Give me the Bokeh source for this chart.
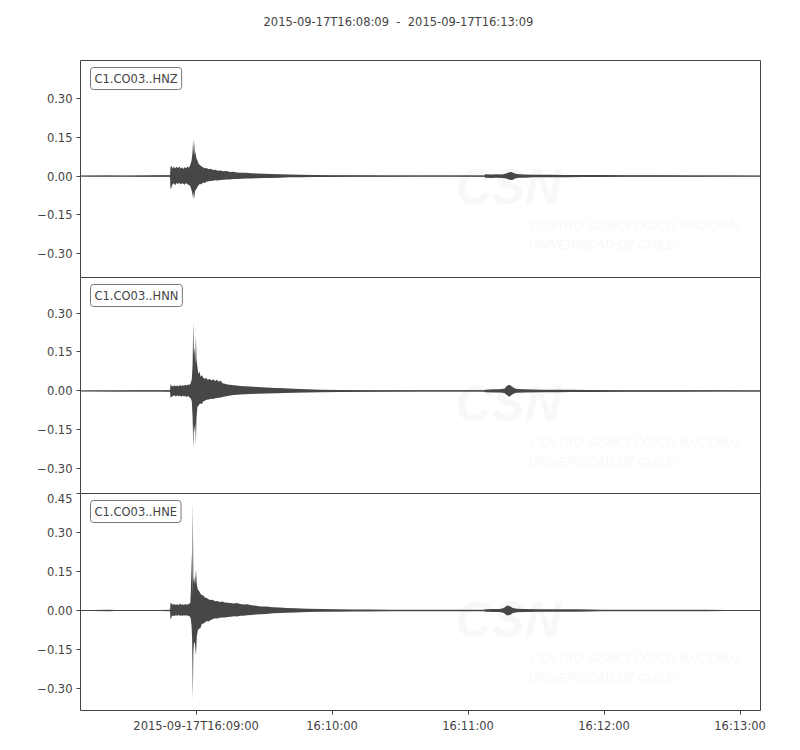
import numpy as np
from bokeh.plotting import figure
from bokeh.models import Range1d, FixedTicker, Label, Title, ColumnDataSource
from bokeh.layouts import column
from bokeh.embed import file_html
from bokeh.resources import INLINE

# ---------------- data ----------------
title_text = "2015-09-17T16:08:09 \u00a0-\u00a0 2015-09-17T16:13:09"
channels = ["C1.CO03..HNZ", "C1.CO03..HNN", "C1.CO03..HNE"]
# x in seconds after 2015-09-17T16:08:09
x_start, x_end = 0.0, 300.0
x_tick_seconds = [51, 111, 171, 231, 291]
x_tick_labels = ["2015-09-17T16:09:00", "16:10:00", "16:11:00", "16:12:00", "16:13:00"]
y_ranges = [(-0.397, 0.448), (-0.399, 0.437), (-0.385, 0.4505)]
y_ticks = [-0.30, -0.15, 0.0, 0.15, 0.30, 0.45]
y_tick_labels = ["\u22120.30", "\u22120.15", "0.00", "0.15", "0.30", "0.45"]

# envelope of each trace: (time s, upper amplitude, lower amplitude)
hnz = [(0, .001, -.001), (3, .0015, -.0015), (12, .002, -.002), (20, .0015, -.0015),
       (28, .0025, -.0025), (33, .003, -.003), (38, .0035, -.003), (39.5, .003, -.003),
       (39.7, .035, -.05), (40.1, .04, -.045), (40.6, .028, -.032), (41.2, .037, -.028),
       (41.8, .029, -.036), (42.4, .036, -.027), (43.0, .03, -.031), (43.6, .038, -.026),
       (44.2, .028, -.033), (44.8, .034, -.028), (45.4, .027, -.03), (46.0, .035, -.034),
       (46.6, .029, -.027), (47.2, .037, -.032), (47.8, .032, -.035), (48.4, .042, -.038),
       (49.0, .06, -.055), (49.4, .09, -.07), (49.7, .145, -.09), (49.95, .085, -.06),
       (50.2, .135, -.088), (50.45, .08, -.065), (50.7, .095, -.055), (51.1, .07, -.05),
       (51.6, .06, -.042), (52.1, .048, -.036), (52.7, .043, -.03), (53.3, .038, -.033),
       (54.0, .034, -.025), (54.8, .03, -.027), (55.6, .031, -.022), (56.5, .026, -.02),
       (57.4, .028, -.019), (58.4, .024, -.018), (59.5, .025, -.016), (60.6, .021, -.017),
       (61.8, .022, -.015), (63.0, .019, -.014), (64.5, .02, -.013), (66.0, .016, -.013),
       (67.5, .017, -.011), (69.0, .014, -.011), (71.0, .013, -.01), (73.0, .013, -.009),
       (75.5, .011, -.009), (78.0, .01, -.008), (81.0, .009, -.007), (84.0, .008, -.007),
       (88.0, .007, -.006), (92.0, .006, -.005), (97.0, .005, -.005), (103.0, .004, -.004),
       (110.0, .0035, -.0035), (120.0, .003, -.003), (135.0, .0025, -.0025), (150.0, .002, -.002),
       (165.0, .002, -.002), (178.0, .0025, -.0025),
       (178.7, .007, -.006), (181.0, .006, -.007), (183.5, .007, -.006), (186.0, .006, -.007),
       (187.8, .01, -.009), (189.2, .015, -.014), (190.2, .016, -.015), (191.0, .012, -.013),
       (192.0, .009, -.008), (193.5, .007, -.006), (196.0, .006, -.006), (200.0, .005, -.005),
       (206.0, .005, -.005), (214.0, .0045, -.0045), (222.0, .004, -.004), (231.0, .004, -.004),
       (240.0, .003, -.003), (255.0, .003, -.003), (270.0, .0025, -.0025), (285.0, .002, -.002),
       (300.0, .0015, -.0015)]

hnn = [(0, .001, -.001), (5, .0015, -.0015), (15, .002, -.002), (25, .0025, -.0025),
       (35, .0025, -.0025), (39.5, .003, -.003),
       (39.7, .026, -.026), (40.2, .02, -.022), (40.8, .017, -.02), (41.4, .022, -.017),
       (42.0, .018, -.021), (42.6, .021, -.018), (43.2, .017, -.02), (43.8, .023, -.019),
       (44.4, .019, -.022), (45.0, .022, -.018), (45.6, .02, -.021), (46.2, .024, -.02),
       (46.8, .021, -.023), (47.4, .025, -.02), (48.0, .023, -.024), (48.6, .03, -.028),
       (49.1, .045, -.04), (49.45, .1, -.1), (49.75, .267, -.226), (50.0, .14, -.13),
       (50.3, .17, -.16), (50.6, .1, -.12), (50.9, .213, -.205), (51.2, .12, -.1),
       (51.6, .09, -.06), (52.0, .065, -.058), (52.5, .075, -.05), (53.0, .055, -.048),
       (53.6, .06, -.05), (54.2, .05, -.04), (54.8, .047, -.038), (55.5, .05, -.035),
       (56.2, .042, -.033), (57.0, .047, -.032), (57.8, .04, -.03), (58.6, .045, -.031),
       (59.4, .038, -.028), (60.2, .043, -.027), (61.0, .035, -.026), (61.8, .04, -.025),
       (62.7, .03, -.023), (63.7, .028, -.021), (64.8, .025, -.02), (66.0, .024, -.018),
       (67.5, .022, -.016), (69.0, .021, -.015), (70.5, .019, -.014), (72.5, .018, -.013),
       (75.0, .017, -.012), (78.0, .015, -.011), (82.0, .013, -.01), (86.0, .011, -.009),
       (90.0, .01, -.008), (94.0, .008, -.007), (100.0, .006, -.006), (106.0, .005, -.005),
       (115.0, .004, -.004), (130.0, .003, -.003), (150.0, .0025, -.0025), (178.0, .0025, -.0025),
       (178.7, .005, -.005), (182.0, .006, -.006), (185.0, .006, -.006), (187.0, .008, -.008),
       (188.2, .02, -.017), (189.2, .024, -.022), (190.2, .018, -.016), (191.2, .011, -.01),
       (192.5, .007, -.007), (196.0, .006, -.006), (203.0, .005, -.005), (210.0, .005, -.005),
       (216.0, .0045, -.0045), (225.0, .004, -.004), (240.0, .003, -.003), (260.0, .003, -.003),
       (280.0, .0025, -.0025), (300.0, .002, -.002)]

hne = [(0, .001, -.001), (5, .002, -.002), (13, .0025, -.0025), (15, .002, -.002),
       (25, .002, -.002), (35, .002, -.002), (39.5, .0025, -.0025),
       (39.7, .03, -.035), (40.2, .026, -.024), (40.8, .022, -.019), (41.4, .025, -.021),
       (42.0, .021, -.018), (42.6, .024, -.02), (43.2, .02, -.017), (43.8, .026, -.02),
       (44.4, .022, -.018), (45.0, .024, -.021), (45.6, .021, -.017), (46.2, .025, -.02),
       (46.8, .022, -.018), (47.4, .024, -.02), (48.0, .026, -.021), (48.6, .03, -.03),
       (49.0, .224, -.06), (49.25, .06, -.11), (49.55, .414, -.346), (49.8, .11, -.16),
       (50.1, .13, -.12), (50.5, .1, -.13), (50.95, .158, -.173), (51.3, .1, -.1),
       (51.8, .08, -.075), (52.3, .075, -.07), (52.9, .065, -.068), (53.5, .06, -.052),
       (54.2, .058, -.05), (54.9, .05, -.046), (55.7, .048, -.04), (56.5, .043, -.042),
       (57.4, .04, -.037), (58.3, .041, -.034), (59.3, .036, -.03), (60.3, .037, -.031),
       (61.4, .033, -.028), (62.5, .035, -.027), (63.7, .031, -.027), (65.0, .03, -.025),
       (66.3, .029, -.024), (67.7, .027, -.022), (69.0, .029, -.023), (70.5, .025, -.02),
       (72.0, .023, -.02), (73.5, .024, -.018), (75.5, .02, -.017), (77.5, .018, -.015),
       (79.5, .015, -.014), (82.0, .015, -.013), (85.0, .013, -.011), (88.0, .012, -.01),
       (91.0, .01, -.009), (95.0, .009, -.008), (100.0, .007, -.006), (106.0, .006, -.005),
       (113.0, .005, -.005), (120.0, .004, -.004), (128.0, .0035, -.0035), (136.0, .003, -.003),
       (150.0, .0025, -.0025), (178.0, .0025, -.0025),
       (178.7, .005, -.005), (182.0, .006, -.006), (185.0, .006, -.006), (186.8, .01, -.01),
       (188.2, .019, -.019), (189.5, .016, -.017), (190.8, .01, -.01), (192.5, .007, -.007),
       (196.0, .006, -.006), (203.0, .005, -.005), (210.0, .005, -.005), (219.0, .0045, -.0045),
       (230.0, .003, -.003), (250.0, .0025, -.0025), (275.0, .003, -.003), (285.0, .002, -.002),
       (300.0, .0015, -.0015)]

traces = [hnz, hnn, hne]

# ---------------- style ----------------
TRACE = "#474747"
TXT = "#444444"
FONT = "DejaVu Sans"
WM = "#f8f8f8"
FS = "11.5px"

x_range = Range1d(x_start, x_end)
frame_heights = [218, 217, 217]
figs = []
for i, (env, ch, yr) in enumerate(zip(traces, channels, y_ranges)):
    top = 60 if i == 0 else 0
    bottom = 32 if i == 2 else 0
    fh = frame_heights[i]
    p = figure(width=792, height=fh + top + bottom, x_range=x_range,
               y_range=Range1d(*yr), output_backend="svg", toolbar_location=None,
               x_axis_location="below" if i == 2 else None,
               min_border_left=80, min_border_right=32,
               min_border_top=top, min_border_bottom=bottom)
    if i > 0:
        p.styles = {"margin-top": "-1px"}
    p.grid.visible = False
    p.outline_line_color = TXT
    p.outline_line_width = 1
    p.background_fill_color = "white"
    p.border_fill_color = "white"

    t = [e[0] for e in env]
    up = [e[1] for e in env]
    lo = [e[2] for e in env]
    mid = [(a + b) / 2 for a, b in zip(up, lo)]
    src = ColumnDataSource(dict(t=t, up=up, lo=lo, mid=mid))

    # faint watermark
    p.add_layout(Label(x=375, y=fh - 98, x_units="screen", y_units="screen", text="CSN",
                       text_font="Liberation Sans", text_font_style="bold italic",
                       text_font_size="50px", text_color=WM, text_baseline="top",
                       level="underlay"))
    p.add_layout(Label(x=450, y=fh - 158, x_units="screen", y_units="screen",
                       text="CENTRO SISMOLÓGICO NACIONAL",
                       text_font="Liberation Sans", text_font_style="italic",
                       text_font_size="12.5px", text_color=WM, text_baseline="top",
                       level="underlay"))
    p.add_layout(Label(x=448, y=fh - 177, x_units="screen", y_units="screen",
                       text="UNIVERSIDAD DE CHILE",
                       text_font="Liberation Sans", text_font_style="italic",
                       text_font_size="12.5px", text_color=WM, text_baseline="top",
                       level="underlay"))

    p.varea(x="t", y1="lo", y2="up", source=src, fill_color=TRACE, fill_alpha=1)
    p.line(x="t", y="mid", source=src, line_color=TRACE, line_width=1)

    # y axis
    yax = p.yaxis[0]
    ticks = [v for v in y_ticks if yr[0] <= v <= yr[1]]
    yax.ticker = FixedTicker(ticks=ticks)
    yax.major_label_overrides = {v: lab for v, lab in zip(y_ticks, y_tick_labels) if v in ticks}
    yax.axis_line_color = None
    yax.major_tick_line_color = TXT
    yax.major_tick_out = 4
    yax.major_tick_in = 0
    yax.minor_tick_line_color = None
    yax.major_label_text_font = FONT
    yax.major_label_text_font_size = FS
    yax.major_label_text_color = TXT
    yax.major_label_standoff = 4

    if i == 2:
        xax = p.xaxis[0]
        xax.ticker = FixedTicker(ticks=x_tick_seconds)
        xax.major_label_overrides = {v: lab for v, lab in zip(x_tick_seconds, x_tick_labels)}
        xax.axis_line_color = None
        xax.major_tick_line_color = TXT
        xax.major_tick_out = 4
        xax.major_tick_in = 0
        xax.minor_tick_line_color = None
        xax.major_label_text_font = FONT
        xax.major_label_text_font_size = FS
        xax.major_label_text_color = TXT
        xax.major_label_standoff = 4

    # channel label box
    p.add_layout(Label(x=10, y=fh - 7, x_units="screen", y_units="screen", text=ch,
                       text_font=FONT, text_font_size=FS, text_color=TXT,
                       anchor="top_left", padding=4, border_radius=3,
                       border_line_color="#777777", border_line_width=1,
                       background_fill_color="white", background_fill_alpha=1))

    if i == 0:
        p.add_layout(Title(text=title_text, align="left", offset=183, text_font=FONT,
                           text_font_size=FS, text_font_style="normal",
                           text_color=TXT, standoff=0, vertical_align="bottom",
                           padding=dict(left=0, right=0, top=10, bottom=32)), "above")
    figs.append(p)

layout = column(*figs, spacing=0)
open("out.html", "w").write(file_html(layout, INLINE))
